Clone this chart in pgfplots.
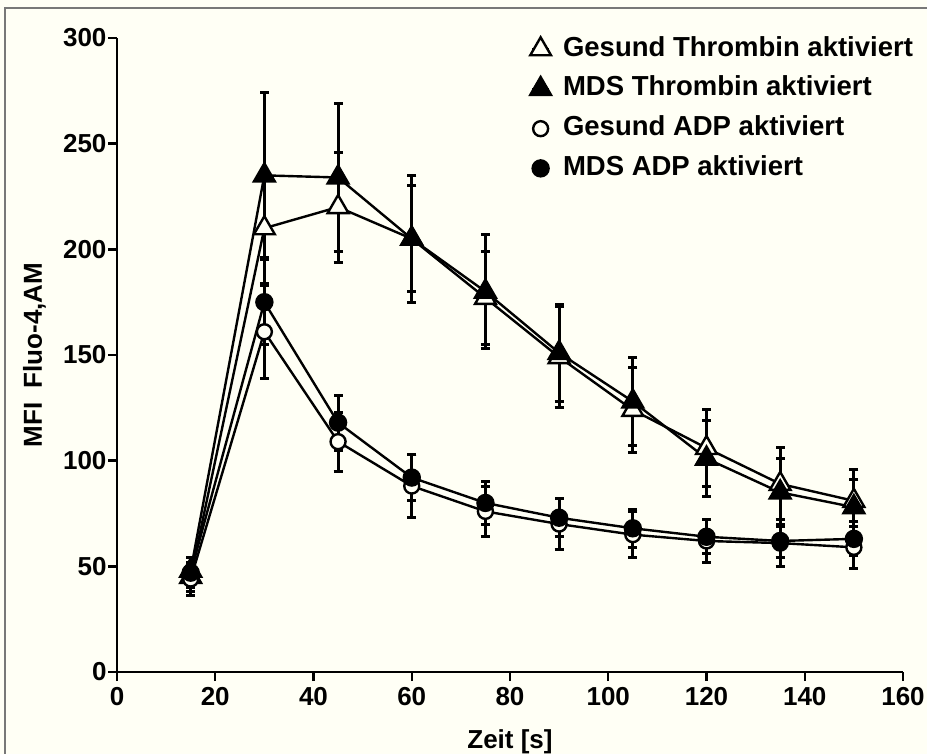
\documentclass[border=0pt]{standalone}
\usepackage{fontspec}
\setmainfont{Liberation Sans}
\usepackage{pgfplots}
\usepackage{pgfplotstable}
\pgfplotsset{compat=1.18}
\definecolor{bg}{RGB}{255,255,245}
\definecolor{frm}{RGB}{120,120,120}

\pgfplotstableread{
x y e
15 45 7
30 210 26
45 220 26
60 205 25
75 177 22
90 149 24
105 124 20
120 106 18
135 89 17
150 81 15
}\GT
\pgfplotstableread{
x y e
15 48 6
30 235 39
45 234 35
60 205 30
75 180 27
90 151 23
105 128 21
120 101 18
135 85 16
150 78 13
}\MT
\pgfplotstableread{
x y e
15 44 8
30 161 22
45 109 14
60 88 15
75 76 12
90 70 12
105 65 11
120 62 10
135 61 11
150 59 10
}\GA
\pgfplotstableread{
x y e
15 47 7
30 175 20
45 118 13
60 92 11
75 80 10
90 73 9
105 68 9
120 64 8
135 62 8
150 63 8
}\MA

\begin{document}
\begin{tikzpicture}[x=1pt,y=1pt]
\path[use as bounding box, fill=bg] (0,0) rectangle (927,-754);
\draw[frm, line width=1.5pt] (5,-754) -- (5,-8) -- (927,-8);
\begin{axis}[
  at={(117pt,-672pt)}, anchor=south west,
  scale only axis, width=786pt, height=634pt,
  xmin=0, xmax=160, ymin=0, ymax=300,
  axis x line*=bottom, axis y line*=left,
  axis line style={line width=2.6pt, black},
  xtick={0,20,...,160}, ytick={0,50,...,300},
  tick align=outside, major tick length=9pt,
  tick style={line width=2.4pt, black},
  /pgf/number format/assume math mode=true,
  ticklabel style={font=\fontsize{26}{30}\selectfont\bfseries},
  xticklabel style={yshift=-3pt},
  yticklabel style={xshift=2pt},
  xlabel={Zeit [s]}, ylabel={MFI\ \ Fluo-4,AM},
  every axis x label/.style={at={([yshift=-76pt]axis description cs:0.5,0)}, anchor=base, font=\fontsize{26}{30}\selectfont\bfseries},
  every axis y label/.style={at={([xshift=-75pt]axis description cs:0,0.5)}, anchor=base, rotate=90, font=\fontsize{26}{30}\selectfont\bfseries},
  legend style={draw=none, fill=none, inner sep=0pt,
    at={(axis description cs:0.5255,1.003)}, anchor=north west,
    font=\fontsize{27.5}{30}\selectfont\bfseries,
    nodes={inner sep=0pt, text height=20pt, text depth=6pt},
    row sep=13.7pt,
    /tikz/every odd column/.append style={column sep=12pt}},
  legend cell align=left,
  every axis plot/.append style={line width=2.4pt, black},
  error bars/y dir=both, error bars/y explicit,
  error bars/draw error bar/.code 2 args={%
    \draw[line width=3pt, black] #1 -- #2 node[pos=1, sloped, allow upside down, inner sep=0pt, outer sep=0pt]
      {\tikz\draw[line width=3pt, black] (0pt,-4.5pt) -- (0pt,4.5pt);};%
  },
]
\addplot[mark=triangle*, mark size=12pt, mark options={fill=bg, draw=black, line width=2.4pt}] table[x=x, y=y, y error=e] {\GT};
\addplot[mark=triangle*, mark size=12pt, mark options={fill=black, draw=black}] table[x=x, y=y, y error=e] {\MT};
\addplot[mark=*, mark size=7.5pt, mark options={fill=bg, draw=black, line width=2.4pt}] table[x=x, y=y, y error=e] {\GA};
\addplot[mark=*, mark size=8pt, mark options={fill=black, draw=black}] table[x=x, y=y, y error=e] {\MA};
\legend{Gesund Thrombin aktiviert, MDS Thrombin aktiviert, Gesund ADP aktiviert, MDS ADP aktiviert}
\end{axis}
\end{tikzpicture}
\end{document}
